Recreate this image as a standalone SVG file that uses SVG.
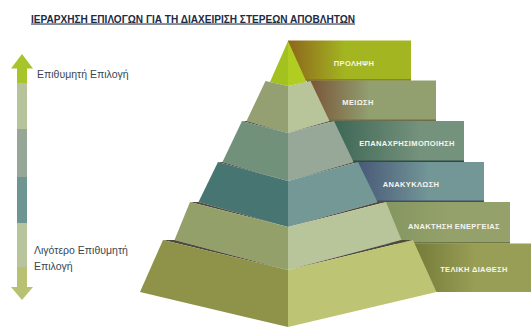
<svg xmlns="http://www.w3.org/2000/svg" width="531" height="327" viewBox="0 0 531 327">
<style>
.title{font-family:"Liberation Sans",Arial,sans-serif;font-size:10.5px;font-weight:bold;fill:#1c2c44;text-decoration:underline}
.side{font-family:"Liberation Sans",Arial,sans-serif;font-size:10.5px;fill:#3a4652}
.lbl{font-family:"Liberation Sans",Arial,sans-serif;font-size:7.5px;font-weight:bold;fill:#f6f6f0;text-anchor:middle;letter-spacing:0.35px}
.ledge{fill:#4e4a3c}
.shade{stroke-width:1.6}
</style>
<defs>
<linearGradient id="g1" gradientUnits="userSpaceOnUse" x1="292" y1="0" x2="345" y2="0"><stop offset="0" stop-color="#8f6b1c"/><stop offset="1" stop-color="#a3b521"/></linearGradient>
<linearGradient id="g2" gradientUnits="userSpaceOnUse" x1="314" y1="0" x2="370" y2="0"><stop offset="0" stop-color="#7b5a3c"/><stop offset="1" stop-color="#92a070"/></linearGradient>
<linearGradient id="g3" gradientUnits="userSpaceOnUse" x1="336" y1="0" x2="420" y2="0"><stop offset="0" stop-color="#3f6857"/><stop offset="1" stop-color="#75927c"/></linearGradient>
<linearGradient id="g4" gradientUnits="userSpaceOnUse" x1="360" y1="0" x2="430" y2="0"><stop offset="0" stop-color="#4a5b78"/><stop offset="1" stop-color="#739797"/></linearGradient>
<linearGradient id="g5" gradientUnits="userSpaceOnUse" x1="386" y1="0" x2="450" y2="0"><stop offset="0" stop-color="#859660"/><stop offset="1" stop-color="#95a16b"/></linearGradient>
<linearGradient id="g6" gradientUnits="userSpaceOnUse" x1="415" y1="0" x2="475" y2="0"><stop offset="0" stop-color="#767b39"/><stop offset="1" stop-color="#989e55"/></linearGradient>
</defs>
<rect width="531" height="327" fill="#ffffff"/>

<g id="title"><text class="title" x="31" y="22.5" textLength="324" lengthAdjust="spacingAndGlyphs">ΙΕΡΑΡΧΗΣΗ ΕΠΙΛΟΓΩΝ ΓΙΑ ΤΗ ΔΙΑΧΕΙΡΙΣΗ ΣΤΕΡΕΩΝ ΑΠΟΒΛΗΤΩΝ</text></g>

<g id="scale-arrow">
<polygon points="22,54 33,68.5 27,68.5 27,83 17,83 17,68.5 11,68.5" fill="#a8c42b"/>
<rect x="17" y="83" width="10" height="46" fill="#b7c39b"/>
<rect x="17" y="129" width="10" height="48" fill="#97a797"/>
<rect x="17" y="177" width="10" height="46" fill="#6f9593"/>
<rect x="17" y="223" width="10" height="44" fill="#b8c49c"/>
<polygon points="17,267 27,267 27,287 33,287 22,300 11,287 17,287" fill="#b8c072"/>
<text class="side" x="37" y="77.5">Επιθυμητή Επιλογή</text>
<text class="side" x="34" y="254">Λιγότερο Επιθυμητή</text>
<text class="side" x="34" y="269.5">Επιλογή</text>
</g>

<g id="level1">
<rect x="288" y="40.5" width="123" height="40" fill="url(#g1)"/>
<line class="shade" x1="292" y1="80" x2="411" y2="80" stroke="#7d7a1e"/>
<text class="lbl" x="354" y="66">ΠΡΟΛΗΨΗ</text>
<polygon points="288,41 270,82 288,86" fill="#a3c21f"/>
<polygon points="288,41 306.5,82 288,86" fill="#b2cd22"/>
</g>

<g id="level2">
<rect x="307" y="80.5" width="129" height="40.5" fill="url(#g2)"/>
<line class="shade" x1="320" y1="120.3" x2="436" y2="120.3" stroke="#6e6e4c"/>
<text class="lbl" x="358" y="105">ΜΕΙΩΣΗ</text>
<polygon class="ledge" points="265.5,81 270,82 288,86"/>
<polygon class="ledge" points="310.5,81 306.5,82 288,86"/>
<polygon points="265.5,81 288,86 288,133 246.5,121" fill="#949f72"/>
<polygon points="310.5,81 288,86 288,133 329.5,121" fill="#b8c49a"/>
</g>

<g id="level3">
<rect x="330" y="121" width="134" height="41" fill="url(#g3)"/>
<line class="shade" x1="340" y1="161.2" x2="464" y2="161.2" stroke="#2f4c40"/>
<text class="lbl" x="407" y="146">ΕΠΑΝΑΧΡΗΣΙΜΟΠΟΙΗΣΗ</text>
<polygon class="ledge" points="242,121 246.5,121 288,133"/>
<polygon class="ledge" points="334,121 329.5,121 288,133"/>
<polygon points="242,121 288,133 288,181 222.5,162" fill="#72917b"/>
<polygon points="334,121 288,133 288,181 353.5,162" fill="#97a798"/>
</g>

<g id="level4">
<rect x="354" y="162" width="130" height="40" fill="url(#g4)"/>
<line class="shade" x1="365" y1="201.2" x2="484" y2="201.2" stroke="#3e4f66"/>
<text class="lbl" x="411" y="187">ΑΝΑΚΥΚΛΩΣΗ</text>
<polygon class="ledge" points="218,162 222.5,162 288,181"/>
<polygon class="ledge" points="358,162 353.5,162 288,181"/>
<polygon points="218,162 288,181 288,227 198.5,202" fill="#477672"/>
<polygon points="358,162 288,181 288,227 377.5,202" fill="#739896"/>
</g>

<g id="level5">
<rect x="382" y="202" width="128" height="41.5" fill="url(#g5)"/>
<line class="shade" x1="395" y1="242.8" x2="510" y2="242.8" stroke="#6d7748"/>
<text class="lbl" x="454" y="229">ΑΝΑΚΤΗΣΗ ΕΝΕΡΓΕΙΑΣ</text>
<polygon class="ledge" points="190,202 198.5,202 288,227"/>
<polygon class="ledge" points="386,202 377.5,202 288,227"/>
<polygon points="190,202 288,227 288,270 174.5,240" fill="#93a069"/>
<polygon points="386,202 288,227 288,270 401.5,240" fill="#b8c59a"/>
</g>

<g id="level6">
<rect x="411" y="243.5" width="120" height="48.5" fill="url(#g6)"/>
<text class="lbl" x="474" y="271.5">ΤΕΛΙΚΗ ΔΙΑΘΕΣΗ</text>
<polygon class="ledge" points="163,240 174.5,240 288,270"/>
<polygon class="ledge" points="413,240 401.5,240 288,270"/>
<polygon points="163,240 288,270 288,327 140,292" fill="#8e9349"/>
<polygon points="413,240 288,270 288,327 436.5,292" fill="#bdc473"/>
</g>
</svg>
